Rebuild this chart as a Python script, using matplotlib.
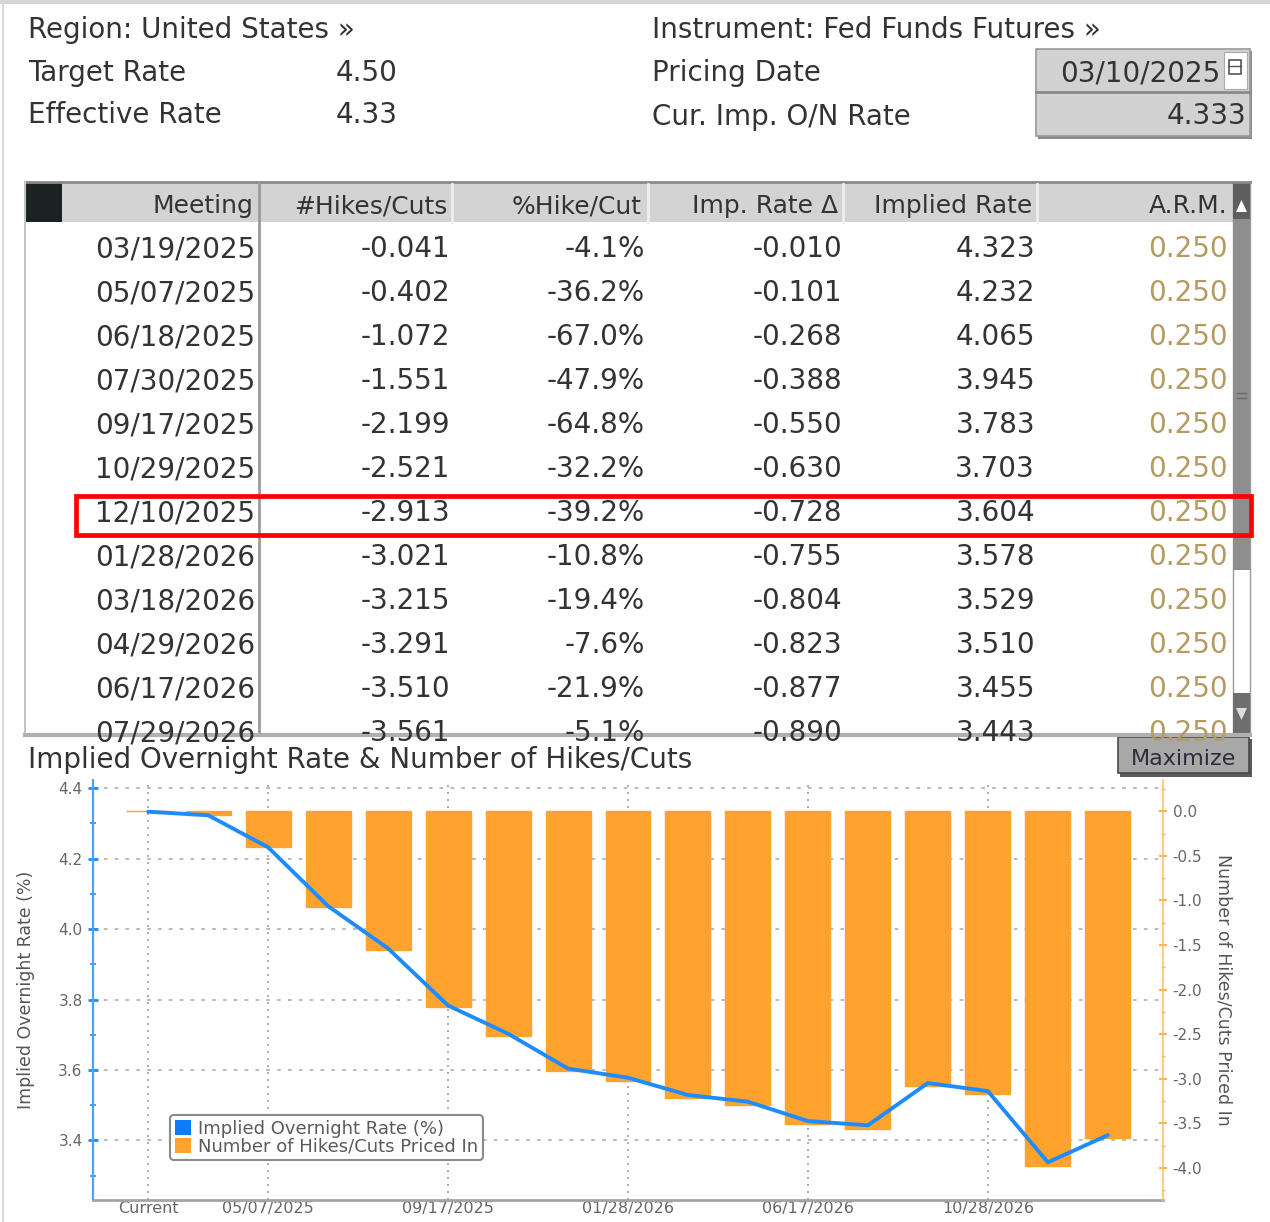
import numpy as np
import matplotlib
matplotlib.use('Agg')
import matplotlib.pyplot as plt
from matplotlib.patches import Rectangle, Patch, Polygon


# ==============================
# Data
# ==============================

target_rate = '4.50'
effective_rate = '4.33'
pricing_date = '03/10/2025'
cur_imp_rate = '4.333'

# table rows (last one is cut off by the panel edge)
meetings = ['03/19/2025', '05/07/2025', '06/18/2025', '07/30/2025', '09/17/2025', '10/29/2025',
            '12/10/2025', '01/28/2026', '03/18/2026', '04/29/2026', '06/17/2026', '07/29/2026']
hikes_cuts = [-0.041, -0.402, -1.072, -1.551, -2.199, -2.521, -2.913, -3.021, -3.215, -3.291, -3.510, -3.561]
pct_hike_cut = [-4.1, -36.2, -67.0, -47.9, -64.8, -32.2, -39.2, -10.8, -19.4, -7.6, -21.9, -5.1]
imp_rate_chg = [-0.010, -0.101, -0.268, -0.388, -0.550, -0.630, -0.728, -0.755, -0.804, -0.823, -0.877, -0.890]
implied_rate = [4.323, 4.232, 4.065, 3.945, 3.783, 3.703, 3.604, 3.578, 3.529, 3.510, 3.455, 3.443]
arm = [0.250, 0.250, 0.250, 0.250, 0.250, 0.250, 0.250, 0.250, 0.250, 0.250, 0.250, 0.250]
highlight_meeting = '12/10/2025'

# chart series
chart_dates = ['Current', '03/19/2025', '05/07/2025', '06/18/2025', '07/30/2025', '09/17/2025',
               '10/29/2025', '12/10/2025', '01/28/2026', '03/18/2026', '04/29/2026', '06/17/2026',
               '07/29/2026', '09/16/2026', '10/28/2026', '12/09/2026', '01/27/2027']
chart_rate = [4.333, 4.323, 4.232, 4.065, 3.945, 3.783, 3.703, 3.604, 3.578, 3.529, 3.510, 3.455,
              3.443, 3.563, 3.540, 3.338, 3.415]
chart_hikes = [0.0, -0.041, -0.402, -1.072, -1.551, -2.199, -2.521, -2.913, -3.021, -3.215, -3.291,
               -3.510, -3.561, -3.08, -3.17, -3.98, -3.67]
chart_tick_dates = ['Current', '05/07/2025', '09/17/2025', '01/28/2026', '06/17/2026', '10/28/2026']


# ==============================
# Setup
# ==============================

plt.rcParams['font.family'] = ['DejaVu Sans']
plt.rcParams['axes.unicode_minus'] = False

W, H = 1270, 1222
TXT = '#333333'
BLUE = '#1e8cff'
ORANGE = '#ffa22e'

fig = plt.figure(figsize=(W / 100, H / 100), dpi=100)

# pixel canvas for the terminal panel
bg = fig.add_axes([0, 0, 1, 1])
bg.set_xlim(0, W)
bg.set_ylim(H, 0)
bg.axis('off')

# outer frame
bg.add_patch(Rectangle((0, 0), W, 4, fc='#d4d4d4', ec='none'))
bg.plot([3, 3], [0, H], color='#d8d8d8', lw=1.5)

# ==============================
# Header
# ==============================

bg.text(28, 38, 'Region: United States »', fontsize=20, color=TXT)
bg.text(652, 38, 'Instrument: Fed Funds Futures »', fontsize=20, color=TXT)
bg.text(28, 81, 'Target Rate', fontsize=20, color=TXT)
bg.text(336, 81, target_rate, fontsize=20, color=TXT)
bg.text(28, 123, 'Effective Rate', fontsize=20, color=TXT)
bg.text(336, 123, effective_rate, fontsize=20, color=TXT)
bg.text(652, 81, 'Pricing Date', fontsize=20, color=TXT)
bg.text(652, 125, 'Cur. Imp. O/N Rate', fontsize=20, color=TXT)

# input boxes
bg.add_patch(Rectangle((1038, 51), 214, 88, fc='#8c8c8c', ec='none'))
bg.add_patch(Rectangle((1036, 49), 214, 87, fc='#d2d2d2', ec='#9a9a9a', lw=1.2))
bg.plot([1036, 1250], [92, 92], color='#8a8a8a', lw=2)
bg.add_patch(Rectangle((1224, 52), 23, 37, fc='white', ec='#aaaaaa', lw=0.8))
bg.add_patch(Rectangle((1229, 60), 12, 14, fc='white', ec='#555555', lw=1.2))
bg.plot([1229, 1241], [66, 66], color='#555555', lw=1)
bg.text(1220, 82, pricing_date, fontsize=20, color=TXT, ha='right')
bg.text(1246, 124, cur_imp_rate, fontsize=20, color=TXT, ha='right')

# ==============================
# Table
# ==============================

tbl_top, tbl_bot = 182, 735
bg.add_patch(Rectangle((25, tbl_top), 1208, 40, fc='#d3d3d3', ec='none'))
bg.plot([25, 1250], [tbl_top, tbl_top], color='#8a8a8a', lw=2)
bg.add_patch(Rectangle((25, tbl_top), 37, 40, fc='#1c2222', ec='none'))
for sx in [452, 648, 843, 1037]:
    bg.plot([sx, sx], [tbl_top + 2, tbl_top + 40], color='#eeeeee', lw=2)
bg.plot([259, 259], [tbl_top, tbl_bot], color='#9a9a9a', lw=2)
bg.plot([25, 25], [tbl_top, tbl_bot], color='#c4c4c4', lw=1.5)
bg.plot([25, 1250], [tbl_bot, tbl_bot], color='#b0b0b0', lw=3)

col_right = [255, 450, 645, 842, 1035, 1228]
headers = ['Meeting', '#Hikes/Cuts', '%Hike/Cut', 'Imp. Rate Δ', 'Implied Rate', 'A.R.M.']
head_right = [253, 448, 642, 838, 1032, 1228]
for hx, label in zip(head_right, headers):
    bg.text(hx, 213, label, fontsize=18, color=TXT, ha='right')

clip = Rectangle((25, tbl_top + 40), 1208, tbl_bot - tbl_top - 41, transform=bg.transData)
for i, m in enumerate(meetings):
    base = 257 + 44 * i
    cells = [m, f'{hikes_cuts[i]:.3f}', f'{pct_hike_cut[i]:.1f}%', f'{imp_rate_chg[i]:.3f}',
             f'{implied_rate[i]:.3f}', f'{arm[i]:.3f}']
    for j, (cx, s) in enumerate(zip(col_right, cells)):
        t = bg.text(cx, base, s, fontsize=20, ha='right',
                    color='#b39b62' if j == 5 else TXT)
        t.set_clip_path(clip)
    if m == highlight_meeting:
        bg.add_patch(Rectangle((76, base - 25), 1175, 39, fill=False, ec='#ff0000', lw=3.4, zorder=5))

# scrollbar
bg.add_patch(Rectangle((1233, tbl_top), 17, tbl_bot - tbl_top, fc='white', ec='#9a9a9a', lw=1))
bg.add_patch(Rectangle((1233, tbl_top), 17, 37, fc='#5e5e5e', ec='none'))
bg.add_patch(Polygon([[1236, 212], [1247, 212], [1241.5, 200]], fc='white', ec='none'))
bg.add_patch(Rectangle((1233, 219), 17, 351, fc='#8e8e8e', ec='none'))
bg.plot([1237, 1246], [393, 393], color='#6a6a6a', lw=1)
bg.plot([1237, 1246], [398, 398], color='#6a6a6a', lw=1)
bg.add_patch(Rectangle((1233, 693), 17, 40, fc='#6e6e6e', ec='none'))
bg.add_patch(Polygon([[1236, 708], [1247, 708], [1241.5, 720]], fc='#dddddd', ec='none'))

# ==============================
# Chart panel
# ==============================

bg.text(28, 768, 'Implied Overnight Rate & Number of Hikes/Cuts', fontsize=20, color=TXT)
bg.add_patch(Rectangle((1120, 739), 132, 38, fc='#5a5a5a', ec='none'))
bg.add_patch(Rectangle((1118, 737), 131, 36, fc='#a8a8a8', ec='#4a4a4a', lw=1.2))
bg.text(1184, 759, 'Maximize', fontsize=16, color='#2c2c3c', ha='center', va='center')

pos = [93 / W, 1 - 1200 / H, 1070 / W, 420 / H]
x = np.arange(len(chart_dates))
tick_idx = [chart_dates.index(d) for d in chart_tick_dates]

ax = fig.add_axes(pos)
ax.set_xlim(-0.92, 16.92)
ax.set_ylim(3.231, 4.423)
ax.set_facecolor('none')
ax.set_yticks(np.round(np.arange(3.4, 4.41, 0.2), 1))
ax.set_yticks(np.round(np.arange(3.3, 4.41, 0.1), 1), minor=True)
ax.set_yticklabels([f'{v:.1f}' for v in np.arange(3.4, 4.41, 0.2)])
ax.set_xticks(tick_idx)
ax.set_xticklabels(chart_tick_dates)
ax.grid(axis='y', ls=(0, (2, 4)), color='#b4b4b4', lw=1.3)
ax.grid(axis='x', ls=(0, (1.2, 3)), color='#a0a0a0', lw=1.2)
ax.tick_params(axis='y', colors=BLUE, direction='inout', length=7, width=2, labelsize=11,
               labelcolor='#666666', pad=4)
ax.tick_params(axis='y', which='minor', colors=BLUE, direction='inout', length=4, width=1.2)
ax.tick_params(axis='x', length=0, labelsize=11.5, labelcolor='#666666', pad=1)
ax.spines['left'].set_color('#4aa3ff')
ax.spines['left'].set_linewidth(1.6)
ax.spines['bottom'].set_color('#a4a4a4')
ax.spines['bottom'].set_linewidth(2)
ax.spines['top'].set_visible(False)
ax.spines['right'].set_visible(False)
ax.set_ylabel('Implied Overnight Rate (%)', fontsize=12.5, color='#555555')
ax.yaxis.set_label_coords(-0.054, 0.5)

ax2 = ax.twinx()
ax2.set_ylim(-4.36, 0.35)
ax2.bar(x, chart_hikes, width=0.75, color=ORANGE, edgecolor=ORANGE, lw=1)
ax2.set_yticks(np.round(np.arange(-4.0, 0.01, 0.5), 1))
ax2.set_yticks(np.round(np.arange(-4.25, 0.3, 0.25), 2), minor=True)
ax2.set_yticklabels([f'{v:.1f}' for v in np.arange(-4.0, 0.01, 0.5)])
ax2.tick_params(axis='y', colors='#ffb350', direction='inout', length=6, width=1.5, labelsize=11,
                labelcolor='#666666', pad=4)
ax2.tick_params(axis='y', which='minor', colors='#ffb350', direction='inout', length=3, width=1)
ax2.spines['right'].set_color('#ffc070')
ax2.spines['right'].set_linewidth(1.2)
for s in ['left', 'top', 'bottom']:
    ax2.spines[s].set_visible(False)
ax2.set_ylabel('Number of Hikes/Cuts Priced In', fontsize=12.5, color='#555555', rotation=270)
ax2.yaxis.set_label_coords(1.0645, 0.5)

# line sits on its own layer so it stays above the bars
ax3 = fig.add_axes(pos, sharex=ax, sharey=ax)
ax3.axis('off')
ax3.plot(x, chart_rate, color=BLUE, lw=2.8, solid_joinstyle='round', solid_capstyle='round')

handles = [Patch(fc='#0a7cff', ec='none'), Patch(fc=ORANGE, ec='none')]
leg = ax3.legend(handles, ['Implied Overnight Rate (%)', 'Number of Hikes/Cuts Priced In'],
                 loc='lower left', bbox_to_anchor=(0.072, 0.095), borderaxespad=0,
                 fontsize=13, labelcolor='#5a5a5a', handlelength=0.9, handleheight=0.9,
                 handletextpad=0.4, borderpad=0.25, labelspacing=0.0, framealpha=1,
                 edgecolor='#8a8a8a', fancybox=True)
leg.get_frame().set_linewidth(1.5)

plt.savefig('out.png', dpi=100)
plt.close()
